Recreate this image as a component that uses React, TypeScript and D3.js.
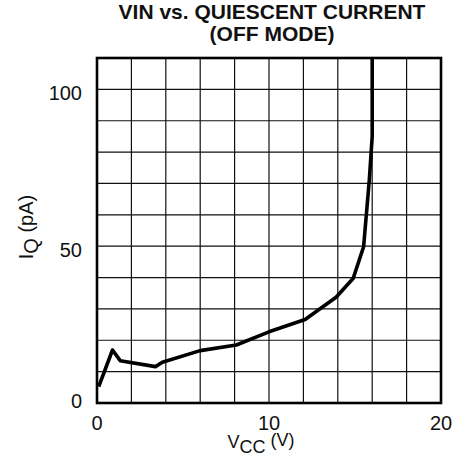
import React from "react";
import * as d3 from "d3";

const vcc = [0.1, 0.9, 1.35, 3.4, 3.8, 6.0, 8.1, 10, 12.1, 13.9, 14.9, 15.5, 15.83, 16, 16];
const iq = [5.2, 16.9, 13.5, 11.6, 13, 16.7, 18.5, 22.7, 26.6, 33.7, 39.8, 49.8, 71, 85, 110];
const xTickLabels = [0, 10, 20];
const yTickLabels = [0, 50, 100];
const xGrid = d3.range(0, 21, 2);
const yGrid = d3.range(0, 111, 10);
const titleLines = ["VIN vs. QUIESCENT CURRENT", "(OFF MODE)"];

const W = 474, H = 470;
const left = 97, right = 441, top = 58, bottom = 403;
const font = "'Liberation Sans', Arial, sans-serif";

export default function App() {
  const x = d3.scaleLinear().domain([0, 20]).range([left, right]);
  const y = d3.scaleLinear().domain([0, 110]).range([bottom, top]);
  const data = vcc.map((v, i) => [v, iq[i]] as [number, number]);
  const line = d3.line<[number, number]>().x(d => x(d[0])).y(d => y(d[1]));
  const cx = (left + right) / 2;

  return (
    <svg width={W} height={H} style={{ position: "absolute", left: 0, top: 0 }} fontFamily={font}>
      <rect x={0} y={0} width={W} height={H} fill="#fff" />
      {titleLines.map((t, i) => (
        <text key={t} x={cx + 3} y={18.5 + i * 22.5} textAnchor="middle" fontWeight="bold" fontSize={21} fill="#111">{t}</text>
      ))}
      {xGrid.map(g => (
        <line key={"vx" + g} x1={x(g)} x2={x(g)} y1={top} y2={bottom} stroke="#111" strokeWidth={1.2} />
      ))}
      {yGrid.map(g => (
        <line key={"hy" + g} x1={left} x2={right} y1={y(g)} y2={y(g)} stroke="#111" strokeWidth={1.2} />
      ))}
      <rect x={left} y={top} width={right - left} height={bottom - top} fill="none" stroke="#000" strokeWidth={2.6} />
      <path d={line(data) || ""} fill="none" stroke="#000" strokeWidth={3.6} strokeLinejoin="round" />
      {xTickLabels.map(t => (
        <text key={"xt" + t} x={x(t)} y={429.5} textAnchor="middle" fontSize={20} fill="#111">{t}</text>
      ))}
      {yTickLabels.map(t => (
        <text key={"yt" + t} x={82} y={y(t) + (t === 0 ? 5 : 10.5)} textAnchor="end" fontSize={20} fill="#111">{t}</text>
      ))}
      <text x={261} y={448} textAnchor="middle" fontSize={18} fill="#111">
        V<tspan dy={5}>CC</tspan><tspan dy={-7}> (V)</tspan>
      </text>
      <text transform={`translate(33,227) rotate(-90)`} textAnchor="middle" fontSize={20} fill="#111">
        I<tspan dy={5}>Q</tspan><tspan dy={-5}> (pA)</tspan>
      </text>
    </svg>
  );
}
